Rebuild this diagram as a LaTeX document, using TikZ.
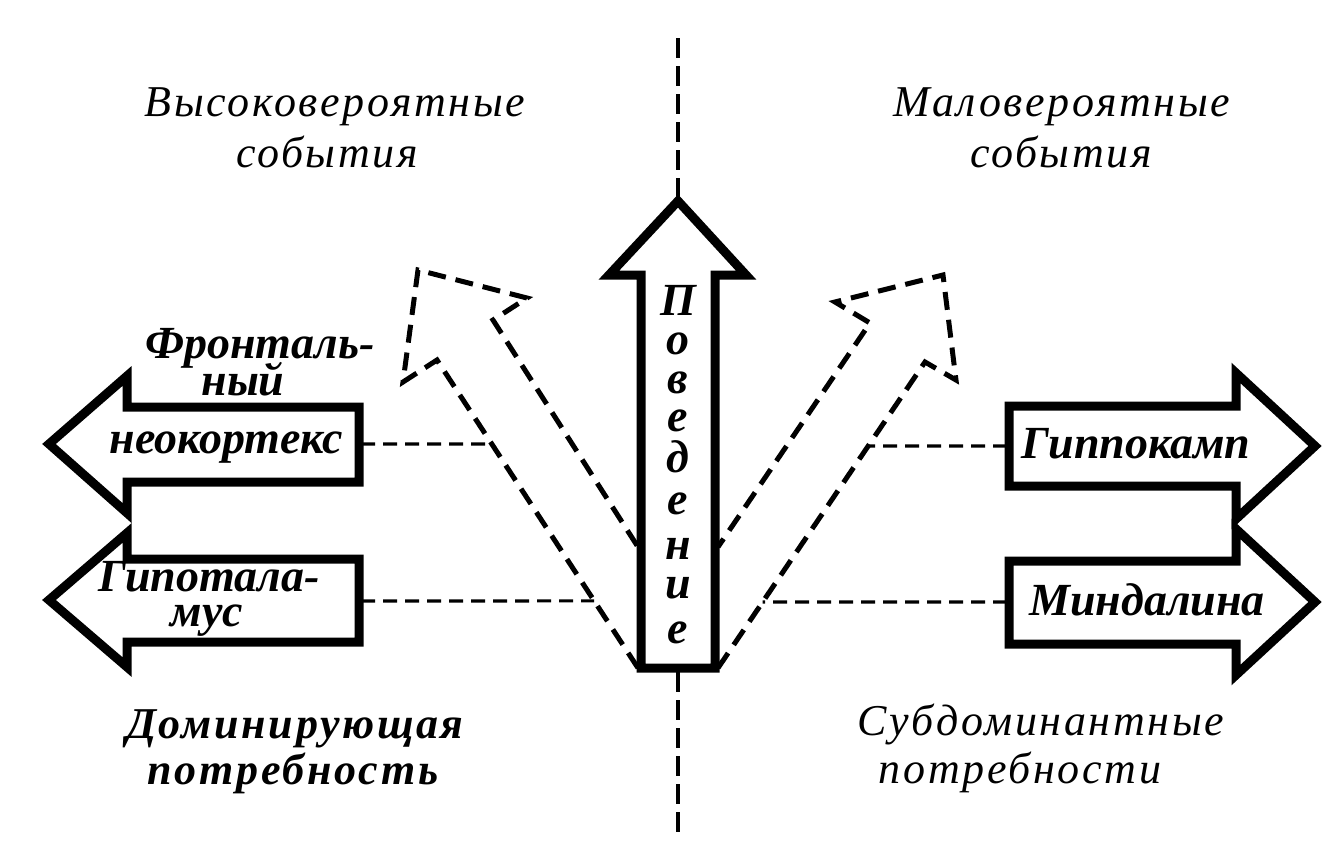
\documentclass[tikz,border=0pt]{standalone}
\usepackage{fontspec}
\setmainfont{Liberation Serif}
\newfontfamily\cornerfont[LetterSpace=6]{Liberation Serif}
\usetikzlibrary{calc}
\begin{document}
\begin{tikzpicture}[x=0.5pt,y=-0.5pt,
  bigarrow/.style={draw=black, line width=4.5pt, fill=white, line join=miter, miter limit=10},
  dasharrow/.style={draw=black, line width=2.5pt, dash pattern=on 9pt off 5pt},
  linkline/.style={draw=black, line width=1.6pt, dash pattern=on 7pt off 4pt},
  axisline/.style={draw=black, line width=1.8pt, dash pattern=on 10pt off 4pt},
  cornertext/.style={anchor=base, inner sep=0pt, font=\cornerfont\fontsize{22}{24}\selectfont\itshape},
  cornerbold/.style={cornertext, font=\cornerfont\fontsize{22}{24}\selectfont\itshape\bfseries},
  labeltext/.style={anchor=base, inner sep=0pt, font=\fontsize{23}{24}\selectfont\itshape\bfseries},
  behtext/.style={anchor=base, inner sep=0pt, text height=1.3ex, text depth=0pt, font=\fontsize{23}{24}\selectfont\itshape\bfseries}]
\useasboundingbox (0,0) rectangle (1335,863);
\fill[white] (0,0) rectangle (1335,863);

% left dashed arrow
\coordinate (L0) at (638,668);
\coordinate (L1) at (437,360);
\coordinate (L2) at (403,382);
\coordinate (L3) at (418,270);
\coordinate (L4) at (527,298);
\coordinate (L5) at (493,320);
\coordinate (L6) at (638,547);
\draw[dasharrow] (L0) -- (L1) -- (L2) -- (L3) -- (L4) -- (L5) -- (L6);

% right dashed arrow
\coordinate (R0) at (718,668);
\coordinate (R1) at (925,362);
\coordinate (R2) at (956,380);
\coordinate (R3) at (943,275);
\coordinate (R4) at (835,302);
\coordinate (R5) at (870,323);
\coordinate (R6) at (718,547);
\draw[dasharrow] (R0) -- (R1) -- (R2) -- (R3) -- (R4) -- (R5) -- (R6);

% central arrow
\draw[bigarrow] (641,668) -- (641,275) -- (609,275) -- (678,201) -- (746,275) -- (715,275) -- (715,668) -- cycle;
\coordinate (ctip) at (678,197);
\coordinate (cbot) at (678,672);

% left arrows
\draw[bigarrow] (359,407) -- (127,407) -- (127,376) -- (49,444) -- (127,513) -- (127,482) -- (359,482) -- cycle;
\draw[bigarrow] (359,559) -- (127,559) -- (127,533) -- (49,600) -- (127,667) -- (127,642) -- (359,642) -- cycle;
% right arrows
\draw[bigarrow] (1009,406) -- (1236,406) -- (1236,373) -- (1315,446) -- (1236,519) -- (1236,486) -- (1009,486) -- cycle;
\draw[bigarrow] (1009,561) -- (1236,561) -- (1236,529) -- (1315,602) -- (1236,675) -- (1236,644) -- (1009,644) -- cycle;

\coordinate (ulend) at (361,444);
\coordinate (llend) at (361,601);
\coordinate (urend) at (1007,446);
\coordinate (lrend) at (1007,602);

% links
\draw[linkline] (ulend) -- ($(L0)!0.727!(L1)$);
\draw[linkline] (llend) -- ($(L0)!0.218!(L1)$);
\draw[linkline] (urend) -- ($(R0)!0.7255!(R1)$);
\draw[linkline] (lrend) -- ($(R0)!0.2157!(R1)$);

% axis
\coordinate (axtop) at (678,38);
\coordinate (axbot) at (678,837);
\draw[axisline] (axtop) -- (ctip);
\draw[axisline] (cbot) -- (axbot);

% corner texts
\node[cornertext] (hi1) at (335,116) {Высоковероятные};
\node[cornertext] (hi2) at (327,167) {события};
\node[cornertext] (lo1) at (1062,116) {Маловероятные};
\node[cornertext] (lo2) at (1061,167) {события};
\node[cornerbold] (dom1) at (295,738) {Доминирующая};
\node[cornerbold] (dom2) at (293,784) {потребность};
\node[cornertext] (sub1) at (1041,735) {Субдоминантные};
\node[cornertext] (sub2) at (1020,783) {потребности};

% labels
\node[labeltext] (fr1) at (260,358) {Фронталь-};
\node[labeltext] (fr2) at (243,395) {ный};
\node[labeltext] (neo) at (226,453) {неокортекс};
\node[labeltext] (hyp1) at (209,591) {Гипотала-};
\node[labeltext] (hyp2) at (207,626) {мус};
\node[labeltext] (hip) at (1136,458) {Гиппокамп};
\node[labeltext] (amy) at (1147,615) {Миндалина};

% vertical word
\node[behtext] (b1) at (678,315) {П};
\node[behtext] (b2) at (678,354) {о};
\node[behtext] (b3) at (678,393) {в};
\node[behtext] (b4) at (678,431) {е};
\node[behtext] (b5) at (678,472) {д};
\node[behtext] (b6) at (678,514) {е};
\node[behtext] (b7) at (678,559) {н};
\node[behtext] (b8) at (678,598) {и};
\node[behtext] (b9) at (678,643) {е};
\end{tikzpicture}
\end{document}
